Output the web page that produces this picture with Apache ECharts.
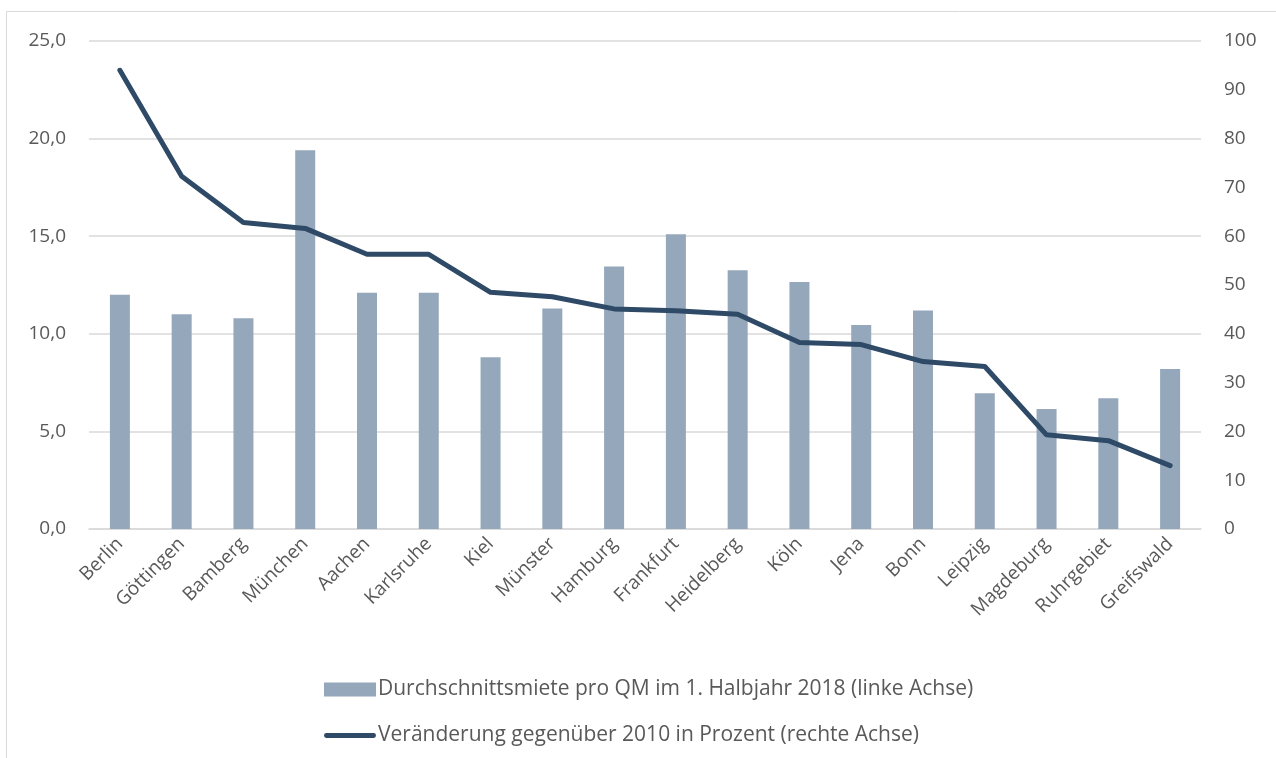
<!DOCTYPE html>
<html>
<head>
<meta charset="utf-8">
<script src="https://cdn.jsdelivr.net/npm/echarts@6/dist/echarts.min.js"></script>
<style>
  html, body { margin: 0; padding: 0; background: #fff; }
  #chartBox { width: 1276px; height: 758px; }
</style>
</head>
<body>
<div id="chartBox"></div>
<script>
// Städte
var cities = ['Berlin', 'Göttingen', 'Bamberg', 'München', 'Aachen', 'Karlsruhe', 'Kiel', 'Münster',
  'Hamburg', 'Frankfurt', 'Heidelberg', 'Köln', 'Jena', 'Bonn', 'Leipzig', 'Magdeburg', 'Ruhrgebiet', 'Greifswald'];

// Durchschnittsmiete pro QM (linke Achse)
var rent = [12.0, 11.0, 10.8, 19.4, 12.1, 12.1, 8.8, 11.3, 13.45, 15.1, 13.25, 12.65, 10.45, 11.2, 6.95, 6.15, 6.7, 8.2];

// Veränderung gegenüber 2010 in Prozent (rechte Achse)
var change = [94.0, 72.3, 62.8, 61.6, 56.3, 56.3, 48.5, 47.6, 45.1, 44.7, 44.0, 38.2, 37.8, 34.3, 33.3, 19.3, 18.1, 13.0];

var leftTicks = { min: 0, max: 25, step: 5 };
var rightTicks = { min: 0, max: 100, step: 10 };

var barName = 'Durchschnittsmiete pro QM im 1. Halbjahr 2018 (linke Achse)';
var lineName = 'Veränderung gegenüber 2010 in Prozent (rechte Achse)';

var font = 'Open Sans';
var textColor = '#595959';
var lineColor = '#2e4a67';

var chart = echarts.init(document.getElementById('chartBox'));

var option = {
  animation: false,
  textStyle: { fontFamily: font },
  graphic: [{
    type: 'rect',
    shape: { x: 6.5, y: 11.5, width: 1300, height: 800 },
    style: { fill: 'none', stroke: '#d9d9d9', lineWidth: 1 },
    silent: true
  }],
  grid: { left: 89, right: 75, top: 41, bottom: 229 },
  legend: {
    orient: 'vertical',
    left: 319,
    top: 674,
    itemGap: 25,
    itemWidth: 52,
    itemHeight: 14,
    textStyle: { color: textColor, fontSize: 21, fontFamily: font, padding: [0, 0, 0, -3] },
    data: [
      { name: barName, icon: 'rect' },
      { name: lineName, icon: 'path://M2.5,0 L51.5,0 A2.5,2.5 0 0 1 51.5,5 L2.5,5 A2.5,2.5 0 0 1 2.5,0 Z' }
    ]
  },
  xAxis: {
    type: 'category',
    data: cities,
    axisLine: { lineStyle: { color: '#d9d9d9', width: 1.5 } },
    axisTick: { show: false },
    axisLabel: { rotate: 45, color: textColor, fontSize: 19, margin: 12, interval: 0 }
  },
  yAxis: [{
    type: 'value',
    min: leftTicks.min,
    max: leftTicks.max,
    interval: leftTicks.step,
    axisLine: { show: false },
    axisTick: { show: false },
    splitLine: { lineStyle: { color: '#d9d9d9', width: 1.5 } },
    axisLabel: {
      color: textColor, fontSize: 19, margin: 23,
      formatter: function (v) { return v.toFixed(1).replace('.', ','); }
    }
  }, {
    type: 'value',
    min: rightTicks.min,
    max: rightTicks.max,
    interval: rightTicks.step,
    axisLine: { show: false },
    axisTick: { show: false },
    splitLine: { show: false },
    axisLabel: { color: textColor, fontSize: 19, margin: 23 }
  }],
  series: [{
    name: barName,
    type: 'bar',
    yAxisIndex: 0,
    barWidth: 20,
    itemStyle: { color: '#94a7bb' },
    data: rent
  }, {
    name: lineName,
    type: 'line',
    yAxisIndex: 1,
    showSymbol: false,
    symbol: 'none',
    lineStyle: { color: lineColor, width: 5, cap: 'round', join: 'round' },
    itemStyle: { color: lineColor },
    data: change
  }]
};

chart.setOption(option);
</script>
</body>
</html>
